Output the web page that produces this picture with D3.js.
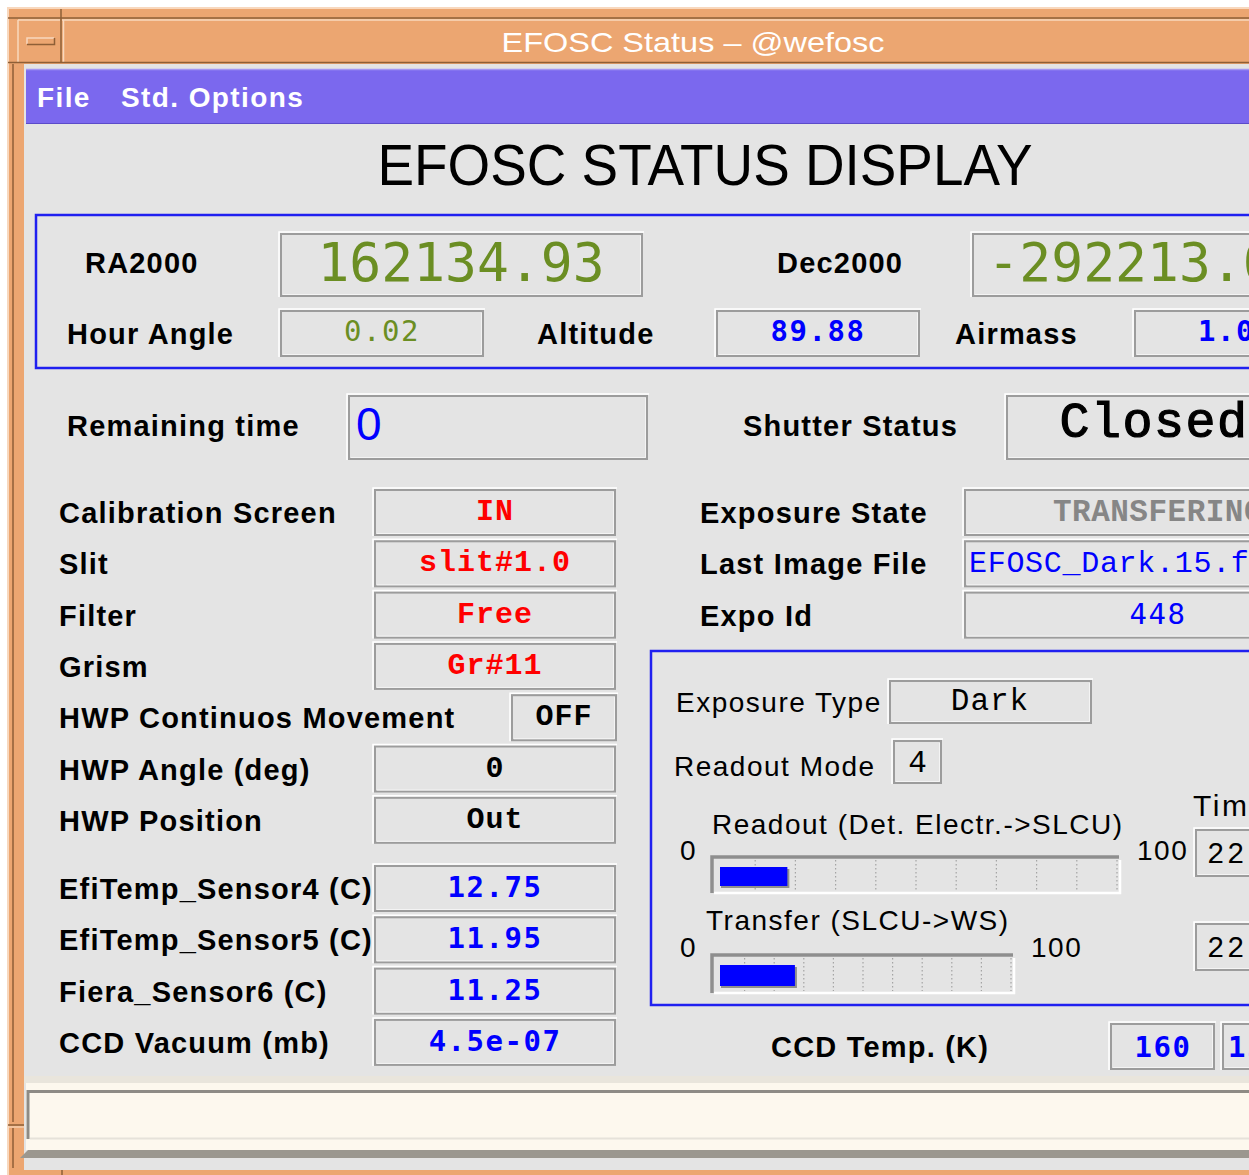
<!DOCTYPE html>
<html>
<head>
<meta charset="utf-8">
<script src="https://cdn.jsdelivr.net/npm/d3@7"></script>
<style>
  html, body { margin: 0; padding: 0; background: #ffffff; overflow: hidden; }
</style>
</head>
<body>
<svg id="panel"></svg>
<script>
// ---- content ----
const windowTitle = "EFOSC Status \u2013 @wefosc";
const menuItems = ["File", "Std. Options"];
const headline = "EFOSC STATUS DISPLAY";
const coordLabels = ["RA2000", "Dec2000"];
const coordValues = ["162134.93", "-292213.00"];
const pointLabels = ["Hour Angle", "Altitude", "Airmass"];
const pointValues = ["0.02", "89.88", "1.00"];
const timeLabels = ["Remaining time", "Shutter Status"];
const timeValues = ["0", "Closed"];
const setupLabels = ["Calibration Screen", "Slit", "Filter", "Grism", "HWP Continuos Movement", "HWP Angle (deg)", "HWP Position"];
const setupValues = ["IN", "slit#1.0", "Free", "Gr#11", "OFF", "0", "Out"];
const sensorLabels = ["EfiTemp_Sensor4 (C)", "EfiTemp_Sensor5 (C)", "Fiera_Sensor6 (C)", "CCD Vacuum (mb)"];
const sensorValues = ["12.75", "11.95", "11.25", "4.5e-07"];
const expoLabels = ["Exposure State", "Last Image File", "Expo Id"];
const expoValues = ["TRANSFERING", "EFOSC_Dark.15.fits", "448"];
const modeLabels = ["Exposure Type", "Readout Mode"];
const modeValues = ["Dark", "4"];
const progressLabels = ["Readout (Det. Electr.->SLCU)", "Transfer (SLCU->WS)"];
const progressValues = [18, 27];
const progressRange = [0, 100];
const progressTickLabels = ["0", "100"];
const timerLabel = "Time";
const timerValues = ["22:07:41", "22:07:52"];
const ccdLabel = "CCD Temp. (K)";
const ccdValues = ["160", "153.0"];

// ---- look ----
const W = 1249, H = 1175;
const ORANGE = "#ECA671", ORANGE_LT = "#F8D8BE", ORANGE_DK = "#8E5F37";
const PANEL = "#E4E4E4", PURPLE = "#7B68EE", BOXBLUE = "#2020F0";
const GREEN = "#6B8E23", BLUE = "#0000FF", RED = "#FF0000";

const labelBold = { family: "Liberation Sans", size: 29, weight: "bold", ls: 1.2 };
const labelThin = { family: "Liberation Sans", size: 28, ls: 1.5 };
const bigGreen = { family: "DejaVu Sans Mono", size: 53, fill: GREEN };
const smallGreen = { family: "DejaVu Sans Mono", size: 29, ls: 1.5, fill: GREEN };
const blueBold = { family: "DejaVu Sans Mono", size: 29, weight: "bold", ls: 1.5, fill: BLUE };
const blueThin = { family: "DejaVu Sans Mono", size: 29, ls: 1.5, fill: BLUE };
const courRed = { family: "Liberation Mono", size: 30, weight: "bold", ls: 1, fill: RED };
const courBlack = { family: "Liberation Mono", size: 30, weight: "bold", ls: 1, fill: "#000" };
const courGrey = { family: "Liberation Mono", size: 31, weight: "bold", ls: 0.5, fill: "#868686" };
const courBlue = { family: "Liberation Mono", size: 30, ls: 0.7, fill: BLUE };
const courPlain = { family: "Liberation Mono", size: 31, ls: 1, fill: "#000" };

const svg = d3.select("#panel").attr("width", W).attr("height", H);

function put(g, x, y, s, st, anchor) {
  return g.append("text")
    .attr("x", x).attr("y", y)
    .attr("text-anchor", anchor || "start")
    .attr("fill", st.fill || "#000")
    .style("font-family", st.family)
    .style("font-size", st.size + "px")
    .style("font-weight", st.weight || "normal")
    .style("letter-spacing", (st.ls || 0) + "px")
    .text(s);
}

function ln(g, d, c, w) {
  g.append("path").attr("d", d).attr("fill", "none")
    .attr("stroke", c).attr("stroke-width", w || 1.5);
}

function field(g, x, y, w, h) {
  g.append("rect").attr("x", x).attr("y", y).attr("width", w).attr("height", h)
    .attr("fill", PANEL).attr("stroke", "#9C9C9C").attr("stroke-width", 2);
  ln(g, `M${x - 2},${y + h + 1}V${y - 2}H${x + w + 2}`, "#FFFFFF", 1.5);
  ln(g, `M${x + 2},${y + h - 1.5}H${x + w - 1.5}V${y + 2}`, "#F4F4F4", 1);
}

// ---- window frame ----
const frame = svg.append("g");
frame.append("rect").attr("x", 7).attr("y", 7).attr("width", W).attr("height", H).attr("fill", ORANGE);
ln(frame, `M8,${H}V8H${W}`, ORANGE_LT, 2);
ln(frame, `M8,18H${W}`, ORANGE_DK, 1.5);
ln(frame, `M62,20H${W}`, ORANGE_LT, 1.5);
ln(frame, `M18,20H60`, ORANGE_LT, 1.5);
ln(frame, `M18,20V62`, ORANGE_LT, 1.5);
ln(frame, `M61,9V63`, ORANGE_DK, 1.5);
ln(frame, `M63.5,20V62`, ORANGE_LT, 1.5);
ln(frame, `M8,62.5H${W}`, ORANGE_DK, 1.5);
ln(frame, `M13,64V1122M13,1128V1168`, ORANGE_DK, 1.5);
ln(frame, `M8,1125H24`, ORANGE_DK, 1.5);
ln(frame, `M8,1127H24`, ORANGE_LT, 1.2);
ln(frame, `M62,1170V${H}`, ORANGE_DK, 1.5);
// window-menu button
frame.append("rect").attr("x", 27).attr("y", 38).attr("width", 27).attr("height", 6).attr("fill", ORANGE);
ln(frame, "M27,44V38H54", ORANGE_LT, 1.5);
ln(frame, "M27,44.5H54.5V38", ORANGE_DK, 1.5);

put(frame, 693, 52, windowTitle, { family: "Liberation Sans", size: 28, fill: "#FFFFFF" }, "middle")
  .attr("textLength", 383).attr("lengthAdjust", "spacingAndGlyphs");

// ---- client area ----
svg.append("rect").attr("x", 24).attr("y", 64).attr("width", W).attr("height", 1170 - 64).attr("fill", PANEL);

const menu = svg.append("g");
menu.append("rect").attr("x", 26).attr("y", 69).attr("width", W).attr("height", 55).attr("fill", PURPLE);
ln(menu, `M26,69.5H${W}`, "#A396F3", 1.5);
ln(menu, `M26,123.5H${W}`, "#5B4BC9", 1.2);
const menuX = [37, 121];
menuItems.forEach((m, i) => put(menu, menuX[i], 107, m,
  { family: "Liberation Sans", size: 28, weight: "bold", ls: 1.4, fill: "#FFFFFF" }));

put(svg, 705, 185, headline, { family: "Liberation Sans", size: 58 }, "middle")
  .attr("textLength", 655).attr("lengthAdjust", "spacingAndGlyphs");

// ---- coordinates box ----
const coords = svg.append("g");
coords.append("rect").attr("x", 36).attr("y", 215).attr("width", 1400).attr("height", 153)
  .attr("fill", "none").attr("stroke", BOXBLUE).attr("stroke-width", 2.5);
const coordLabelX = [85, 777], coordFieldX = [281, 973];
coordLabels.forEach((l, i) => {
  put(coords, coordLabelX[i], 273, l, labelBold);
  field(coords, coordFieldX[i], 234, 361, 62);
  put(coords, coordFieldX[i] + 180 - (i ? 6 : 0), 281, coordValues[i], bigGreen, "middle");
});
const pointLabelX = [67, 537, 955], pointFieldX = [281, 717, 1135];
const pointStyles = [smallGreen, blueBold, blueBold];
pointLabels.forEach((l, i) => {
  put(coords, pointLabelX[i], 344, l, labelBold);
  field(coords, pointFieldX[i], 311, 202, 45);
  put(coords, pointFieldX[i] + 101, 341, pointValues[i], pointStyles[i], "middle");
});

// ---- remaining time / shutter ----
const row2 = svg.append("g");
put(row2, 67, 436, timeLabels[0], labelBold);
field(row2, 349, 396, 298, 63);
put(row2, 356, 440, timeValues[0], { family: "Liberation Sans", size: 46, fill: BLUE });
put(row2, 743, 436, timeLabels[1], labelBold);
field(row2, 1007, 396, 298, 63);
put(row2, 1154, 437, timeValues[1], { family: "Liberation Mono", size: 50, ls: 1.5 }, "middle")
  .attr("stroke", "#000").attr("stroke-width", 1.2);

// ---- instrument setup column ----
const left = svg.append("g");
const setupY = d3.scalePoint().domain(setupLabels).range([490, 490 + 6 * 51.3]);
const setupStyles = [courRed, courRed, courRed, courRed, courBlack, courBlack, courBlack];
setupLabels.forEach((l, i) => {
  const y = setupY(l);
  put(left, 59, y + 33, l, labelBold);
  const fx = i === 4 ? 512 : 375, fw = i === 4 ? 104 : 240;
  field(left, fx, y, fw, 45);
  put(left, fx + fw / 2, y + 30, setupValues[i], setupStyles[i], "middle");
});
const sensorY = d3.scalePoint().domain(sensorLabels).range([866, 866 + 3 * 51.3]);
sensorLabels.forEach((l, i) => {
  const y = sensorY(l);
  put(left, 59, y + 33, l, labelBold);
  field(left, 375, y, 240, 45);
  put(left, 495, y + 31, sensorValues[i], blueBold, "middle");
});

// ---- exposure column ----
const right = svg.append("g");
const expoStyles = [courGrey, courBlue, blueThin];
expoLabels.forEach((l, i) => {
  const y = setupY(setupLabels[i]);
  put(right, 700, y + 33, l, labelBold);
  field(right, 965, y, 386, 45);
  if (i === 1) put(right, 969, y + 31, expoValues[i], expoStyles[i]);
  else put(right, 1158, y + 31, expoValues[i], expoStyles[i], "middle");
});

// ---- detector box ----
const det = svg.append("g");
det.append("rect").attr("x", 651).attr("y", 651).attr("width", 800).attr("height", 354)
  .attr("fill", "none").attr("stroke", BOXBLUE).attr("stroke-width", 2.5);
put(det, 676, 712, modeLabels[0], labelThin);
field(det, 890, 681, 201, 42);
put(det, 990, 710, modeValues[0], courPlain, "middle");
put(det, 674, 776, modeLabels[1], labelThin);
field(det, 894, 741, 47, 42);
put(det, 918, 772, modeValues[1], courPlain, "middle");

const barLayout = [
  { x0: 715, x1: 1117, top: 857, h: 36, lx: 712, ly: 834, zy: 860 },
  { x0: 715, x1: 1011, top: 955, h: 38, lx: 706, ly: 930, zy: 957 }
];
progressValues.forEach((v, i) => {
  const L = barLayout[i];
  const x = d3.scaleLinear().domain(progressRange).range([L.x0, L.x1]);
  const g = det.append("g");
  put(g, L.lx, L.ly, progressLabels[i], labelThin);
  put(g, x(progressRange[0]) - 35, L.zy, progressTickLabels[0], labelThin);
  put(g, x(progressRange[1]) + 20, L.zy, progressTickLabels[1], labelThin);
  ln(g, `M${L.x0 - 3},${L.top + L.h}V${L.top}H${L.x1 + 2}`, "#8E8E8E", 3.5);
  ln(g, `M${L.x0 - 1},${L.top + L.h}H${L.x1 + 3}V${L.top + 3}`, "#FFFFFF", 2.5);
  g.selectAll("line.tick").data(x.ticks(10).slice(1)).join("line")
    .attr("class", "tick")
    .attr("x1", d => x(d)).attr("x2", d => x(d))
    .attr("y1", L.top + 3).attr("y2", L.top + L.h - 2)
    .attr("stroke", "#A4A4A4").attr("stroke-width", 1.2)
    .attr("stroke-dasharray", "1.5,2.5");
  const fy = L.top + 10, fh = L.h - 17;
  g.append("rect").attr("x", x(0) + 6).attr("y", fy + 2).attr("width", x(v) - x(0) - 4).attr("height", fh)
    .attr("fill", "#8E8E8E");
  g.append("rect").attr("x", x(0) + 5).attr("y", fy).attr("width", x(v) - x(0) - 5).attr("height", fh)
    .attr("fill", BLUE);
});

put(det, 1193, 816, timerLabel, { family: "Liberation Sans", size: 30, ls: 2.5 });
const timerY = [830, 924];
timerValues.forEach((t, i) => {
  field(det, 1196, timerY[i], 160, 46);
  put(det, 1207, timerY[i] + 33, t, { family: "Liberation Mono", size: 29, ls: 2.5 });
});

// ---- CCD temperature ----
const ccd = svg.append("g");
put(ccd, 771, 1057, ccdLabel, labelBold);
const ccdX = [1111, 1223];
ccdValues.forEach((c, i) => {
  field(ccd, ccdX[i], 1024, 103, 45);
  if (i === 0) put(ccd, ccdX[i] + 52, 1057, c, blueBold, "middle");
  else put(ccd, ccdX[i] + 5, 1057, c, blueBold);
});

// ---- message line at the bottom ----
const foot = svg.append("g");
foot.append("rect").attr("x", 24).attr("y", 1076).attr("width", W).attr("height", 8).attr("fill", "#E9E5DC");
foot.append("rect").attr("x", 26).attr("y", 1083).attr("width", W).attr("height", 67).attr("fill", "#FDF8EE");
ln(foot, `M28,1139V1091.5H${W}`, "#8E8B85", 3);
ln(foot, `M30,1138.5H${W}`, "#E6E2DA", 2);
foot.append("path").attr("d", `M20,1158L28,1150H${W}V1158Z`).attr("fill", "#9B978F");
</script>
</body>
</html>
